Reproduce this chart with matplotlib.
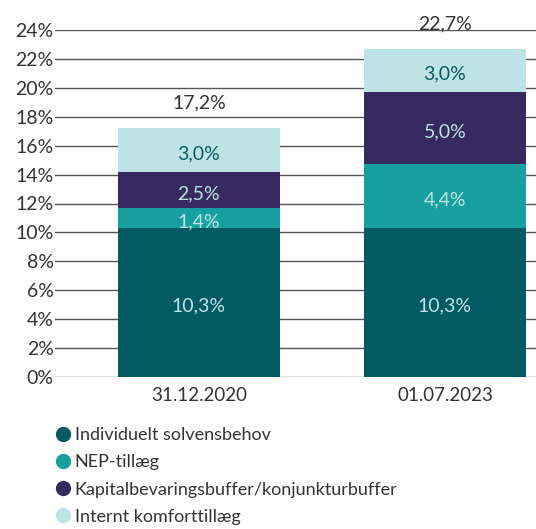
import matplotlib.pyplot as plt
from matplotlib.lines import Line2D
import numpy as np

plt.rcParams['font.family'] = ['Lato', 'DejaVu Sans']

# data
dates = ["31.12.2020", "01.07.2023"]
series = ["Individuelt solvensbehov", "NEP-tillæg",
          "Kapitalbevaringsbuffer/konjunkturbuffer", "Internt komforttillæg"]
individuelt = [10.3, 10.3]
nep = [1.4, 4.4]
kapital = [2.5, 5.0]
internt = [3.0, 3.0]
totals = [17.2, 22.7]
yticks = [0, 2, 4, 6, 8, 10, 12, 14, 16, 18, 20, 22, 24]

colors = ["#035a63", "#18a0a1", "#372a5e", "#bde3e6"]
label_colors = ["#bde3e6", "#bde3e6", "#bde3e6", "#0a5a63"]


def pct(v):
    return f"{v:.1f}".replace(".", ",") + "%"


fig = plt.figure(figsize=(5.36, 5.29), dpi=100)
ax = fig.add_axes([55 / 536, 1 - 377 / 529, 481 / 536, (377 - 30) / 529])

x = np.arange(len(dates))
width = 0.66
values = [individuelt, nep, kapital, internt]
bottom = np.zeros(len(dates))
for vals, col, tcol, name in zip(values, colors, label_colors, series):
    vals = np.array(vals)
    ax.bar(x, vals, width, bottom=bottom, color=col, zorder=2, label=name)
    for xi, b, v in zip(x, bottom, vals):
        ax.text(xi, b + v / 2 - 0.25, pct(v), ha="center",
                va="center", color=tcol, fontsize=14, zorder=3)
    bottom += vals

for xi, t in zip(x, totals):
    ax.annotate(pct(t), (xi, t), xytext=(0, 12),
                textcoords="offset points", ha="center", va="bottom",
                fontsize=14, color="#333333")

ax.set_ylim(0, 24)
ax.set_xlim(-0.585, 1.37)
ax.set_yticks(yticks)
ax.set_yticklabels([f"{t}%" for t in yticks], fontsize=14, color="#333333")
ax.yaxis.grid(True, color="#555555", linewidth=1, zorder=0)
ax.set_axisbelow(True)
ax.tick_params(axis="y", length=0, pad=1)
ax.tick_params(axis="x", length=0, pad=7)
ax.set_xticks(x)
ax.set_xticklabels(dates, fontsize=13.5, color="#333333")
for s in ax.spines.values():
    s.set_visible(False)

handles = [Line2D([], [], marker="o", linestyle="", markersize=10,
                  markerfacecolor=c, markeredgecolor=c) for c in colors]
fig.legend(handles, series, loc="upper left", bbox_to_anchor=(45 / 536, 1 - 420 / 529),
           frameon=False, fontsize=13, handletextpad=0.05, labelspacing=0.62,
           handlelength=1.2, borderaxespad=0, labelcolor="#333333")

fig.savefig("out.png", dpi=100)
